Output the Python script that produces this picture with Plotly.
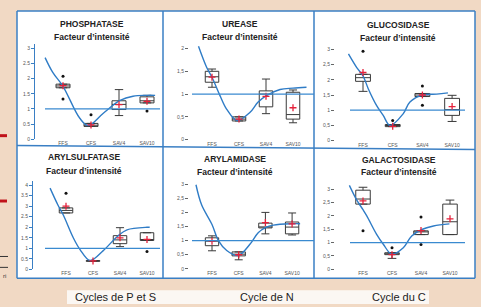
import plotly.graph_objects as go

W, H = 481, 307

# ---------------- DATA ----------------
categories = ["FFS", "CFS", "SAV4", "SAV10"]
cat_pos = [0, 1, 2, 3]

titles = ["PHOSPHATASE", "UREASE", "GLUCOSIDASE",
          "ARYLSULFATASE", "ARYLAMIDASE", "GALACTOSIDASE"]
subtitle = "Facteur d\u2019intensité"

# Phosphatase
phos_q1 = [1.70, 0.42, 0.98, 1.20]
phos_med = [1.76, 0.46, 1.15, 1.27]
phos_q3 = [1.82, 0.52, 1.27, 1.40]
phos_lo = [1.70, 0.42, 0.78, 1.20]
phos_hi = [1.82, 0.52, 1.64, 1.45]
phos_mean = [1.77, 0.47, 1.14, 1.25]
phos_out_x = [0, 0, 1, 3]
phos_out_y = [2.08, 1.33, 0.81, 0.93]
phos_curve_x = [-0.64, -0.36, 0.0, 0.6, 0.9, 1.43, 2.04, 2.5, 3.0, 3.29]
phos_curve_y = [2.70, 2.20, 1.75, 0.69, 0.45, 0.85, 1.28, 1.42, 1.45, 1.45]

# Urease
ure_q1 = [1.26, 0.41, 0.72, 0.45]
ure_med = [1.38, 0.45, 1.00, 0.55]
ure_q3 = [1.50, 0.50, 1.07, 1.04]
ure_lo = [1.15, 0.41, 0.57, 0.37]
ure_hi = [1.55, 0.50, 1.33, 1.09]
ure_mean = [1.37, 0.45, 0.95, 0.70]
ure_out_x = []
ure_out_y = []
ure_curve_x = [-0.5, -0.2, 0.0, 0.3, 0.54, 0.93, 1.41, 1.7, 2.0, 2.52, 3.0, 3.5]
ure_curve_y = [2.05, 1.59, 1.37, 0.96, 0.67, 0.42, 0.60, 0.82, 0.96, 1.10, 1.13, 1.15]

# Glucosidase
glu_q1 = [1.95, 0.46, 1.45, 0.83]
glu_med = [2.07, 0.50, 1.50, 1.02]
glu_q3 = [2.18, 0.53, 1.55, 1.39]
glu_lo = [1.62, 0.46, 1.45, 0.63]
glu_hi = [2.18, 0.53, 1.55, 1.49]
glu_mean = [2.24, 0.47, 1.50, 1.12]
glu_out_x = [0, 1, 2, 2]
glu_out_y = [2.94, 0.66, 1.80, 1.16]
glu_curve_x = [-0.49, -0.21, 0.0, 0.18, 0.46, 0.68, 0.91, 1.35, 1.58, 2.0, 2.48, 2.86]
glu_curve_y = [2.85, 2.40, 2.13, 1.70, 1.15, 0.83, 0.50, 0.88, 1.27, 1.50, 1.53, 1.57]

# Arylsulfatase
asu_q1 = [2.68, 0.38, 1.22, 1.37]
asu_med = [2.80, 0.40, 1.40, 1.40]
asu_q3 = [2.92, 0.42, 1.60, 1.74]
asu_lo = [2.68, 0.38, 1.08, 1.37]
asu_hi = [2.92, 0.42, 1.98, 1.74]
asu_mean = [3.00, 0.40, 1.50, 1.42]
asu_out_x = [0, 3]
asu_out_y = [3.62, 0.85]
asu_curve_x = [-0.59, -0.3, -0.1, 0.27, 0.52, 0.89, 1.38, 1.93, 2.26, 3.0, 3.1]
asu_curve_y = [3.86, 3.06, 2.58, 1.50, 0.94, 0.42, 0.89, 1.60, 1.88, 2.00, 2.00]

# Arylamidase
ami_q1 = [0.82, 0.46, 1.45, 1.24]
ami_med = [0.98, 0.52, 1.46, 1.48]
ami_q3 = [1.10, 0.60, 1.62, 1.66]
ami_lo = [0.64, 0.32, 1.24, 1.20]
ami_hi = [1.17, 0.60, 2.00, 1.98]
ami_mean = [0.98, 0.50, 1.64, 1.59]
ami_out_x = []
ami_out_y = []
ami_curve_x = [-0.6, -0.39, 0.0, 0.24, 0.55, 0.98, 1.42, 1.73, 2.0, 2.3, 3.0, 3.3]
ami_curve_y = [2.98, 2.27, 1.57, 1.00, 0.65, 0.47, 0.87, 1.28, 1.46, 1.55, 1.60, 1.60]

# Galactosidase
gal_q1 = [2.44, 0.55, 1.30, 1.30]
gal_med = [2.63, 0.58, 1.40, 1.78]
gal_q3 = [2.96, 0.62, 1.44, 2.44]
gal_lo = [2.44, 0.41, 1.30, 1.30]
gal_hi = [3.07, 0.62, 1.44, 2.59]
gal_mean = [2.56, 0.55, 1.45, 1.89]
gal_out_x = [0, 1, 2, 2]
gal_out_y = [1.44, 0.81, 1.96, 0.93]
gal_curve_x = [-0.47, -0.22, 0.0, 0.13, 0.47, 0.7, 0.99, 1.39, 1.68, 2.03, 2.43, 2.98]
gal_curve_y = [3.14, 2.60, 2.23, 2.00, 1.31, 0.94, 0.57, 0.81, 1.25, 1.49, 1.62, 1.70]

ticks_3_dot = ["0", "0.5", "1", "1.5", "2", "2.5", "3"]
ticks_4_dot = ["0", "0.5", "1", "1.5", "2", "2.5", "3", "3.5", "4"]
ticks_2_com = ["0", "0,5", "1", "1,5", "2"]
ticks_3_com = ["0", "0,5", "1", "1,5", "2", "2,5", "3"]
tickvals_2 = [0, 0.5, 1, 1.5, 2]
tickvals_3 = [0, 0.5, 1, 1.5, 2, 2.5, 3]
tickvals_4 = [0, 0.5, 1, 1.5, 2, 2.5, 3, 3.5, 4]

reference_value = 1

footer_labels = ["Cycles de P et S", "Cycle de N", "Cycle du C"]

data = [
    (phos_q1, phos_med, phos_q3, phos_lo, phos_hi, phos_mean, phos_out_x, phos_out_y, phos_curve_x, phos_curve_y),
    (ure_q1, ure_med, ure_q3, ure_lo, ure_hi, ure_mean, ure_out_x, ure_out_y, ure_curve_x, ure_curve_y),
    (glu_q1, glu_med, glu_q3, glu_lo, glu_hi, glu_mean, glu_out_x, glu_out_y, glu_curve_x, glu_curve_y),
    (asu_q1, asu_med, asu_q3, asu_lo, asu_hi, asu_mean, asu_out_x, asu_out_y, asu_curve_x, asu_curve_y),
    (ami_q1, ami_med, ami_q3, ami_lo, ami_hi, ami_mean, ami_out_x, ami_out_y, ami_curve_x, ami_curve_y),
    (gal_q1, gal_med, gal_q3, gal_lo, gal_hi, gal_mean, gal_out_x, gal_out_y, gal_curve_x, gal_curve_y),
]
ytick_sets = [(tickvals_3, ticks_3_dot), (tickvals_2, ticks_2_com), (tickvals_3, ticks_3_com),
              (tickvals_4, ticks_4_dot), (tickvals_3, ticks_3_com), (tickvals_3, ticks_3_com)]

# ---------------- GEOMETRY / STYLE (pixels) ----------------
geom = [
    dict(xl=35, xr=162, x0=63, step=28.0, yb=140.5, ppu=30.5, yt=44, hl=(45, 160), title_x=92, ty=(24, 37), axline=True),
    dict(xl=189, xr=314, x0=212, step=27.0, yb=141.0, ppu=46.0, yt=44, hl=(192, 314), title_x=240, ty=(24, 37), axline=False),
    dict(xl=335, xr=468, x0=363, step=29.7, yb=142.0, ppu=30.7, yt=44, hl=(350, 465), title_x=398, ty=(25, 38), axline=False),
    dict(xl=33, xr=162, x0=66, step=27.0, yb=272.0, ppu=21.25, yt=183, hl=(45, 160), title_x=84, ty=(159, 173), axline=True),
    dict(xl=189, xr=314, x0=212, step=26.7, yb=271.5, ppu=28.5, yt=183, hl=(192, 314), title_x=235, ty=(161, 174), axline=False),
    dict(xl=335, xr=468, x0=363, step=29.0, yb=272.0, ppu=27.0, yt=183, hl=(350, 465), title_x=399, ty=(162, 174), axline=False),
]

def fx(px):
    return px / W

def fy(py):
    return 1 - py / H

BLUE = "#2f7cc6"
BORDER = "#3a7fc4"
FONT = "Liberation Sans"

fig = go.Figure()
layout = dict(
    width=W, height=H, margin=dict(l=0, r=0, t=0, b=0),
    paper_bgcolor="#f1d9c4", plot_bgcolor="rgba(0,0,0,0)",
    showlegend=False, font=dict(family=FONT, color="#333"),
)
shapes = []
annotations = []

shapes.append(dict(type="rect", xref="paper", yref="paper", x0=fx(17), x1=fx(475), y0=fy(281), y1=fy(11),
                   fillcolor="white", line=dict(width=0), layer="below"))
shapes.append(dict(type="rect", xref="paper", yref="paper", x0=fx(67), x1=fx(429), y0=fy(307), y1=fy(293),
                   fillcolor="#fbf7f3", line=dict(width=0), layer="below"))
for (a, b, c, d) in [(17, 11, 475, 11), (17, 281, 475, 281), (17, 11, 17, 281), (475, 11, 475, 281),
                     (163, 11, 163, 281), (314, 11, 314, 281), (17, 147, 475, 151)]:
    shapes.append(dict(type="line", xref="paper", yref="paper", x0=fx(a), y0=fy(b), x1=fx(c), y1=fy(d),
                       line=dict(color=BORDER, width=1.5)))
for yy in (137, 203):
    shapes.append(dict(type="rect", xref="paper", yref="paper", x0=0, x1=fx(7), y0=fy(yy + 1.5), y1=fy(yy - 1.5),
                       fillcolor="#c0121a", line=dict(width=0)))
for yy in (259, 270):
    shapes.append(dict(type="line", xref="paper", yref="paper", x0=0, x1=fx(8), y0=fy(yy), y1=fy(yy),
                       line=dict(color="#333", width=1)))

for i, (g, d, (tv, tt)) in enumerate(zip(geom, data, ytick_sets)):
    n = i + 1
    xa = "x" if n == 1 else f"x{n}"
    ya = "y" if n == 1 else f"y{n}"
    xkey = "xaxis" if n == 1 else f"xaxis{n}"
    ykey = "yaxis" if n == 1 else f"yaxis{n}"
    q1, med, q3, lo, hi, mean, ox, oy, cx, cy = d

    xr0 = (g["xl"] - g["x0"]) / g["step"]
    xr1 = (g["xr"] - g["x0"]) / g["step"]
    ytop = (g["yb"] - g["yt"]) / g["ppu"]

    layout[xkey] = dict(domain=[fx(g["xl"]), fx(g["xr"])], range=[xr0, xr1], anchor=ya,
                        tickvals=cat_pos, ticktext=categories, showgrid=False, zeroline=False,
                        showline=False, ticks="",
                        tickfont=dict(size=5, color="#555"))
    layout[ykey] = dict(domain=[fy(g["yb"]), fy(g["yt"])], range=[0, ytop], anchor=xa,
                        tickvals=tv, ticktext=tt, showgrid=False, zeroline=False,
                        showline=g["axline"], linecolor=BORDER, linewidth=1,
                        ticks="outside", ticklen=3,
                        tickcolor=BORDER if g["axline"] else "#666",
                        tickfont=dict(size=5, color="#555"))

    fig.add_trace(go.Box(x=cat_pos, q1=q1, median=med, q3=q3, lowerfence=lo, upperfence=hi,
                         xaxis=xa, yaxis=ya, width=0.5, whiskerwidth=0.6, boxpoints=False,
                         fillcolor="white", line=dict(color="#3a3a3a", width=1), hoverinfo="skip"))
    if ox:
        fig.add_trace(go.Scatter(x=ox, y=oy, xaxis=xa, yaxis=ya, mode="markers",
                                 marker=dict(color="#111", size=3), hoverinfo="skip"))
    fig.add_trace(go.Scatter(x=cx, y=cy, xaxis=xa, yaxis=ya, mode="lines",
                             line=dict(color=BLUE, width=1.4, shape="spline", smoothing=1.0),
                             hoverinfo="skip"))
    fig.add_trace(go.Scatter(x=cat_pos, y=mean, xaxis=xa, yaxis=ya, mode="markers",
                             marker=dict(symbol="cross-thin", size=5, line=dict(color="#e5213b", width=1.3)),
                             hoverinfo="skip"))
    shapes.append(dict(type="line", xref="paper", yref=ya, x0=fx(g["hl"][0]), x1=fx(g["hl"][1]),
                       y0=reference_value, y1=reference_value, line=dict(color="#3a8ad0", width=1.2)))

    annotations.append(dict(text=f"<b>{titles[i]}</b>", xref="paper", yref="paper",
                            x=fx(g["title_x"]), y=fy(g["ty"][0]), xanchor="center", yanchor="middle",
                            showarrow=False, font=dict(size=8.5, color="#222", family=FONT)))
    annotations.append(dict(text=f"<b>{subtitle}</b>", xref="paper", yref="paper",
                            x=fx(g["title_x"]), y=fy(g["ty"][1]), xanchor="center", yanchor="middle",
                            showarrow=False, font=dict(size=8.5, color="#222", family=FONT)))

for label, px in zip(footer_labels, (73, 238, 370)):
    annotations.append(dict(text=label, xref="paper", yref="paper", x=fx(px), y=fy(300),
                            xanchor="left", yanchor="middle", showarrow=False,
                            font=dict(size=11, color="#222", family=FONT)))
annotations.append(dict(text="ri", xref="paper", yref="paper", x=fx(1), y=fy(279), xanchor="left",
                        yanchor="middle", showarrow=False, font=dict(size=6, color="#333", family=FONT)))

layout["shapes"] = shapes
layout["annotations"] = annotations
fig.update_layout(**layout)
fig.write_html("out.html", config={"displayModeBar": False},
               post_script="document.body.style.margin='0px';document.body.style.padding='0px';")
